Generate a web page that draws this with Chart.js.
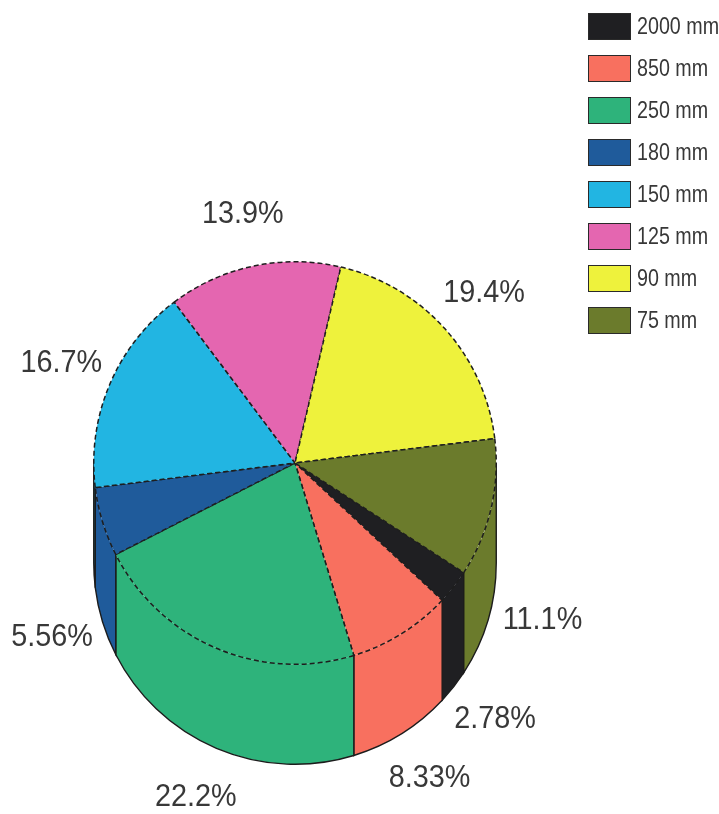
<!DOCTYPE html>
<html>
<head>
<meta charset="utf-8">
<title>Sieve fractions</title>
<script src="https://cdn.jsdelivr.net/npm/chart.js@4.4.0/dist/chart.umd.min.js"></script>
<style>
  html, body { margin: 0; padding: 0; background: #fff; }
  #wrap { width: 719px; height: 814px; }
</style>
</head>
<body>
<div id="wrap"><canvas id="sieve-chart" width="719" height="814"></canvas></div>
<script>
// sieve sizes, share of sample (%) and slice colours
const sizes = ['2000 mm', '850 mm', '250 mm', '180 mm', '150 mm', '125 mm', '90 mm', '75 mm'];
const percents = [2.78, 8.33, 22.2, 5.56, 16.7, 13.9, 19.4, 11.1];
const colors = ['#1f1f22', '#f8705f', '#2eb37b', '#1f5b9b', '#22b5e2', '#e466b0', '#eef23c', '#6b7b2c'];

const DEPTH = 100;      // height of the cylinder wall
const LABEL_R = 254;    // distance of the % labels from the centre
const TEXT = '#383838';
const FONT = "'Liberation Sans', Arial, sans-serif";

// narrow text: squeeze the glyphs horizontally
function narrowText(ctx, text, x, y, squeeze) {
    ctx.save();
    ctx.translate(x, y);
    ctx.scale(squeeze, 1);
    ctx.fillText(text, 0, 0);
    ctx.restore();
}

// front wall of the "3d" pie, drawn under the slices
const sideWall = {
    id: 'sideWall',
    beforeDatasetsDraw(chart) {
        const ctx = chart.ctx;
        const meta = chart.getDatasetMeta(0);
        meta.data.forEach(function(arc, i) {
            const p = arc.getProps(['x', 'y', 'startAngle', 'endAngle', 'outerRadius'], true);
            const r = p.outerRadius;
            [-2, 0, 2].forEach(function(k) {
                const a = Math.max(p.startAngle + k * Math.PI, 0);
                const b = Math.min(p.endAngle + k * Math.PI, Math.PI);
                if (b <= a) return;
                ctx.save();
                ctx.beginPath();
                ctx.arc(p.x, p.y, r, a, b);
                ctx.arc(p.x, p.y + DEPTH, r, b, a, true);
                ctx.closePath();
                ctx.fillStyle = colors[i];
                ctx.fill();

                ctx.beginPath();
                ctx.moveTo(p.x + r * Math.cos(a), p.y + r * Math.sin(a));
                ctx.lineTo(p.x + r * Math.cos(a), p.y + DEPTH + r * Math.sin(a));
                ctx.arc(p.x, p.y + DEPTH, r, a, b);
                ctx.lineTo(p.x + r * Math.cos(b), p.y + r * Math.sin(b));
                ctx.strokeStyle = '#1c1c1c';
                ctx.lineWidth = 1.4;
                ctx.stroke();
                ctx.restore();
            });
        });
    }
};

// percentage labels round the cylinder
const pctLabels = {
    id: 'pctLabels',
    afterDatasetsDraw(chart) {
        const ctx = chart.ctx;
        ctx.save();
        ctx.font = '32px ' + FONT;
        ctx.fillStyle = TEXT;
        ctx.textAlign = 'center';
        ctx.textBaseline = 'middle';
        chart.getDatasetMeta(0).data.forEach(function(arc, i) {
            const p = arc.getProps(['x', 'y', 'startAngle', 'endAngle'], true);
            const mid = ((p.startAngle + p.endAngle) / 2) % (2 * Math.PI);
            const baseY = Math.sin(mid) > 0 ? p.y + DEPTH : p.y;
            narrowText(ctx, percents[i] + '%', p.x + LABEL_R * Math.cos(mid), baseY + LABEL_R * Math.sin(mid), 0.9);
        });
        ctx.restore();
    }
};

// legend column in the top right corner
const boxLegend = {
    id: 'boxLegend',
    afterDraw(chart) {
        const ctx = chart.ctx;
        ctx.save();
        ctx.font = '24px ' + FONT;
        ctx.textBaseline = 'middle';
        sizes.forEach(function(label, i) {
            const top = 13 + i * 42;
            ctx.fillStyle = colors[i];
            ctx.fillRect(588, top, 43, 27);
            ctx.strokeStyle = '#2a2a2a';
            ctx.lineWidth = 1;
            ctx.strokeRect(588.5, top + 0.5, 42, 26);
            ctx.fillStyle = TEXT;
            narrowText(ctx, label, 637, top + 14, 0.82);
        });
        ctx.restore();
    }
};

const ctx = document.getElementById('sieve-chart').getContext('2d');
new Chart(ctx, {
    type: 'pie',
    data: {
        labels: sizes,
        datasets: [{
            data: percents,
            backgroundColor: colors,
            borderColor: '#1e1e1e',
            borderWidth: 1.5,
            borderDash: [5, 3]
        }]
    },
    options: {
        responsive: false,
        animation: false,
        rotation: 123,
        layout: { padding: { left: 93, right: 222, top: 261, bottom: 149 } },
        plugins: {
            legend: { display: false },
            tooltip: { enabled: false }
        }
    },
    plugins: [sideWall, pctLabels, boxLegend]
});
</script>
</body>
</html>
